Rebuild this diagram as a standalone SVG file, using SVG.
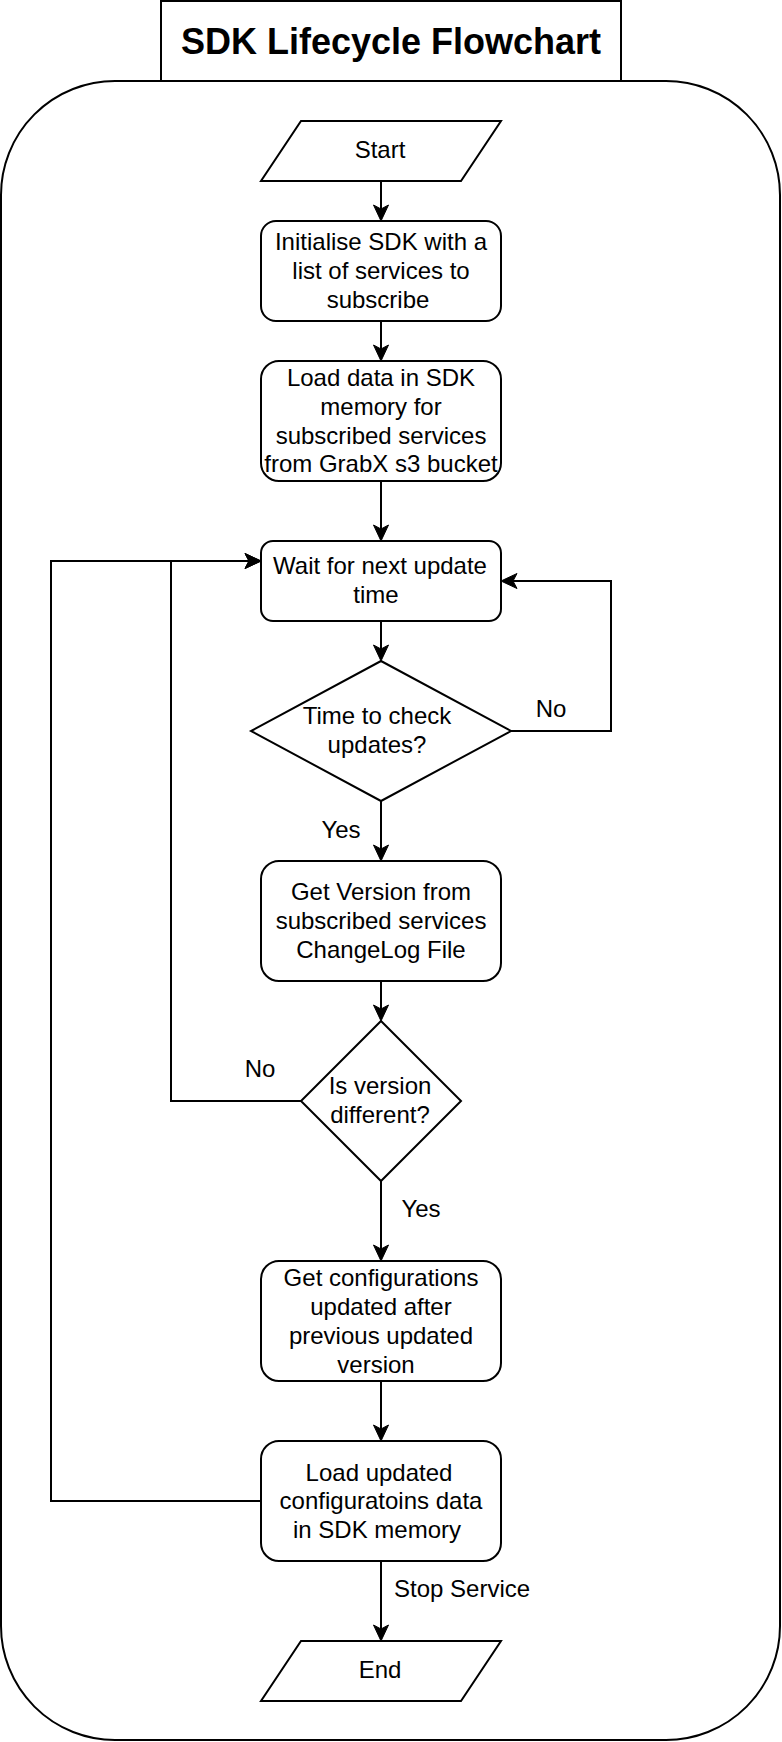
<svg xmlns="http://www.w3.org/2000/svg" width="782" height="1742" viewBox="0 0 782 1742">
<style>
.s{fill:#fff;stroke:#000;stroke-width:2}
.t{font-family:"Liberation Sans",Arial,Helvetica,sans-serif;font-size:24px;fill:#000;text-anchor:middle}
.l{font-family:"Liberation Sans",Arial,Helvetica,sans-serif;font-size:24px;fill:#000}
.c{fill:none;stroke:#000;stroke-width:2}
</style>
<defs>
<marker id="arr" markerUnits="userSpaceOnUse" markerWidth="18" markerHeight="18" refX="12" refY="8" orient="auto" viewBox="0 0 18 18" overflow="visible">
<path d="M0,0.5 L16,8 L0,15.5 L4,8 Z" fill="#000" stroke="#000" stroke-width="1"/>
</marker>
</defs>
<rect id="container" x="1" y="81" width="779" height="1659" rx="114" ry="114" class="s"/>
<g id="title">
<rect x="161" y="1" width="460" height="80" class="s"/>
<text x="391" y="54" style="font-family:'Liberation Sans',Arial,Helvetica,sans-serif;font-size:36px;font-weight:bold;text-anchor:middle">SDK Lifecycle Flowchart</text>
</g>
<g id="connectors">
<path class="c" marker-end="url(#arr)" d="M381,181 V217"/>
<path class="c" marker-end="url(#arr)" d="M381,321 V357"/>
<path class="c" marker-end="url(#arr)" d="M381,481 V537"/>
<path class="c" marker-end="url(#arr)" d="M381,621 V657"/>
<path class="c" marker-end="url(#arr)" d="M511,731 H611 V581 H505"/>
<path class="c" marker-end="url(#arr)" d="M381,801 V857"/>
<path class="c" marker-end="url(#arr)" d="M381,981 V1017"/>
<path class="c" marker-end="url(#arr)" d="M301,1101 H171 V561 H257"/>
<path class="c" marker-end="url(#arr)" d="M381,1181 V1257"/>
<path class="c" marker-end="url(#arr)" d="M381,1381 V1437"/>
<path class="c" marker-end="url(#arr)" d="M261,1501 H51 V561 H257"/>
<path class="c" marker-end="url(#arr)" d="M381,1561 V1637"/>
<text class="t" x="551" y="717">No</text>
<text class="t" x="341" y="838">Yes</text>
<text class="t" x="260" y="1077">No</text>
<text class="t" x="421" y="1217">Yes</text>
<text class="l" x="394" y="1597">Stop Service</text>
</g>
<g id="start">
<polygon class="s" points="301,121 501,121 461,181 261,181"/>
<text class="t" x="380" y="158">Start</text>
</g>
<g id="init">
<rect class="s" x="261" y="221" width="240" height="100" rx="15" ry="15"/>
<text class="t" x="381" y="250">Initialise SDK with a</text>
<text class="t" x="381" y="279">list of services to</text>
<text class="t" x="378" y="308">subscribe</text>
</g>
<g id="load">
<rect class="s" x="261" y="361" width="240" height="120" rx="18" ry="18"/>
<text class="t" x="381" y="386">Load data in SDK</text>
<text class="t" x="381" y="415">memory for</text>
<text class="t" x="381" y="444">subscribed services</text>
<text class="t" x="381" y="472">from GrabX s3 bucket</text>
</g>
<g id="wait">
<rect class="s" x="261" y="541" width="240" height="80" rx="12" ry="12"/>
<text class="t" x="380" y="574">Wait for next update</text>
<text class="t" x="376" y="603">time</text>
</g>
<g id="check">
<polygon class="s" points="381,661 511,731 381,801 251,731"/>
<text class="t" x="377" y="724">Time to check</text>
<text class="t" x="377" y="753">updates?</text>
</g>
<g id="getversion">
<rect class="s" x="261" y="861" width="240" height="120" rx="18" ry="18"/>
<text class="t" x="381" y="900">Get Version from</text>
<text class="t" x="381" y="929">subscribed services</text>
<text class="t" x="381" y="958">ChangeLog File</text>
</g>
<g id="different">
<polygon class="s" points="381,1021 461,1101 381,1181 301,1101"/>
<text class="t" x="380" y="1094">Is version</text>
<text class="t" x="380" y="1123">different?</text>
</g>
<g id="getconfig">
<rect class="s" x="261" y="1261" width="240" height="120" rx="18" ry="18"/>
<text class="t" x="381" y="1286">Get configurations</text>
<text class="t" x="381" y="1315">updated after</text>
<text class="t" x="381" y="1344">previous updated</text>
<text class="t" x="376" y="1373">version</text>
</g>
<g id="loadupdated">
<rect class="s" x="261" y="1441" width="240" height="120" rx="18" ry="18"/>
<text class="t" x="379" y="1481">Load updated</text>
<text class="t" x="381" y="1509">configuratoins data</text>
<text class="t" x="377" y="1538">in SDK memory</text>
</g>
<g id="end">
<polygon class="s" points="301,1641 501,1641 461,1701 261,1701"/>
<text class="t" x="380" y="1678">End</text>
</g>
</svg>
